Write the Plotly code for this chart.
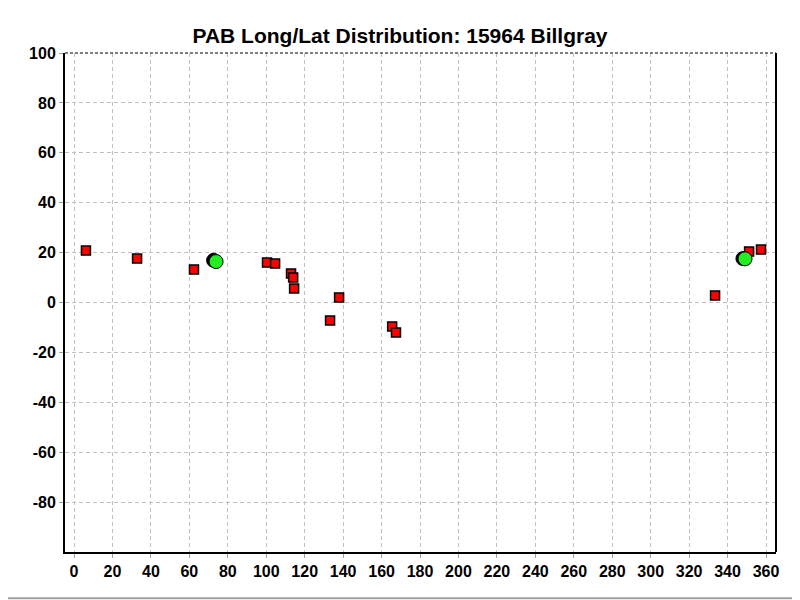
import plotly.graph_objects as go

# Data
sq_long = [6.2, 32.8, 62.4, 100.4, 104.6, 112.9, 114.0, 114.5, 133.2, 137.9, 165.5, 167.5, 333.5, 351.2, 357.4]
sq_lat = [20.8, 17.6, 13.2, 16.0, 15.6, 11.6, 10.0, 5.6, -7.2, 2.0, -9.6, -12.0, 2.8, 20.4, 21.2]

shadow_long = [72.6, 348.0]
shadow_lat = [16.9, 17.6]
circ_long = [73.9, 349.1]
circ_lat = [16.4, 17.5]

x_ticks = list(range(0, 361, 20))
y_ticks = list(range(-80, 101, 20))

fig = go.Figure()
fig.add_trace(go.Scatter(x=sq_long, y=sq_lat, mode="markers",
                         marker=dict(symbol="square", size=9, color="#ff0000",
                                     line=dict(color="black", width=1.5)),
                         showlegend=False))
fig.add_trace(go.Scatter(x=shadow_long, y=shadow_lat, mode="markers",
                         marker=dict(symbol="circle", size=14, color="black",
                                     line=dict(color="black", width=1)),
                         showlegend=False))
fig.add_trace(go.Scatter(x=circ_long, y=circ_lat, mode="markers",
                         marker=dict(symbol="circle", size=14, color="#22ee22",
                                     line=dict(color="black", width=1)),
                         showlegend=False))

font_fam = "Liberation Sans, Arial, sans-serif"
fig.update_layout(
    width=800, height=600,
    margin=dict(l=57, r=32, t=45, b=56),
    paper_bgcolor="white", plot_bgcolor="white",
    title=dict(text="<b>PAB Long/Lat Distribution: 15964 Billgray</b>",
               x=392 / 800, xanchor="center", y=1 - 28 / 600, yanchor="middle",
               font=dict(family=font_fam, size=21, color="black")),
    font=dict(family=font_fam, color="black"),
)
fig.update_xaxes(range=[-4.7, 365.2], tickvals=x_ticks,
                 ticktext=[f"<b>{v}</b>" for v in x_ticks],
                 tickfont=dict(size=16, family=font_fam, color="black"),
                 showgrid=True, gridcolor="#c0c0c0", griddash="4px,3px", gridwidth=1,
                 showline=True, linecolor="black", linewidth=2,
                 ticks="outside", ticklen=4, tickcolor="#a0a0a0",
                 zeroline=False)
fig.update_yaxes(range=[-100, 100], tickvals=y_ticks,
                 ticktext=[f"<b>{v}</b>" for v in y_ticks],
                 tickfont=dict(size=16, family=font_fam, color="black"),
                 showgrid=True, gridcolor="#c0c0c0", griddash="4px,3px", gridwidth=1,
                 showline=True, linecolor="black", linewidth=2,
                 ticks="outside", ticklen=4, tickcolor="#a0a0a0",
                 zeroline=False)

# right border solid, top border dashed
fig.add_shape(type="line", xref="paper", yref="paper", x0=1, x1=1, y0=0, y1=1,
              line=dict(color="black", width=2))
fig.add_shape(type="line", xref="paper", yref="paper", x0=0, x1=1, y0=1, y1=1,
              line=dict(color="black", width=1, dash="3px,2px"))
# window frame border at right/bottom
fig.add_shape(type="line", xref="paper", yref="paper", x0=1.0285, x1=1.0285, y0=-0.095, y1=1.12,
              line=dict(color="#a0a0a0", width=2))
fig.add_shape(type="line", xref="paper", yref="paper", x0=-0.1, x1=1.0285, y0=-0.0925, y1=-0.0925,
              line=dict(color="#a0a0a0", width=2))

fig.write_html("out.html")
